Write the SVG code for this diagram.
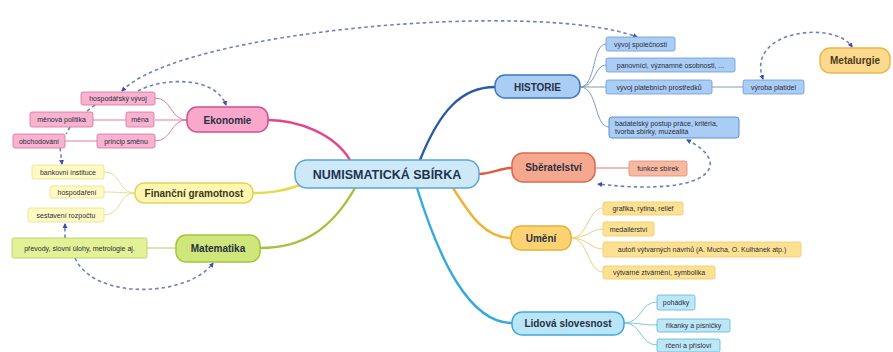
<svg xmlns="http://www.w3.org/2000/svg" width="893" height="352" viewBox="0 0 893 352">
<defs>
<marker id="ah" viewBox="0 0 10 10" refX="8" refY="5" markerWidth="5" markerHeight="5" orient="auto-start-reverse" markerUnits="userSpaceOnUse">
<path d="M0,0 L10,5 L0,10 z" fill="#3d4fb5"/>
</marker>
<style>
.main{font-family:"Liberation Sans",Arial,sans-serif;font-weight:bold;font-size:10px;fill:#2a2f45;text-anchor:middle}
.leaf{font-family:"Liberation Sans",Arial,sans-serif;font-size:7px;fill:#2b2b3a;text-anchor:middle}
.dash{fill:none;stroke:#6f82b4;stroke-width:1.6;stroke-dasharray:3.5,3}
.br{fill:none;stroke-width:2.4;stroke-linecap:round}
.lc{fill:none;stroke-width:1}
</style>
</defs>
<rect width="893" height="352" fill="#ffffff"/>

<g id="connectors">
<!-- main branches -->
<path class="br" d="M350,160 C335,135 300,120 268,120" stroke="#e2468c"/>
<path class="br" d="M300,185 C280,192 268,193 253,193" stroke="#e8da46"/>
<path class="br" d="M355,188 C330,232 300,248 260,248" stroke="#a6c23a"/>
<path class="br" d="M420,160 C440,110 462,87 495,87" stroke="#2c5ba5"/>
<path class="br" d="M479,174 C492,174 500,168 512,168" stroke="#e05c3e"/>
<path class="br" d="M453,188 C470,215 485,238 511,238" stroke="#f1b232"/>
<path class="br" d="M417,188 C440,262 470,323 512,323" stroke="#33a9e0"/>
<!-- Ekonomie leaves -->
<path class="lc" stroke="#e57aa3" d="M187,120 C170,120 172,98 155,98 M187,120 L155,120 M187,120 C170,120 172,141 155,141 M126,120 L93,120 M97,141 L65,141"/>
<!-- Financni leaves -->
<path class="lc" stroke="#e6df8a" d="M135,193 C118,193 122,172 104,172 M135,193 C120,193 120,192 104,192 M135,193 C118,193 122,215 104,215"/>
<!-- Matematika leaf -->
<path class="lc" stroke="#b4cc5a" d="M176,248 L147,248"/>
<!-- Historie leaves -->
<path class="lc" stroke="#7d9ab8" d="M580,87 C596,87 592,44 606,44 M580,87 C596,87 594,65 606,65 M580,87 L606,87 M580,87 C598,87 594,127 609,127 M712,87 L743,87"/>
<!-- Sberatelstvi leaf -->
<path class="lc" stroke="#dc8068" d="M595,168 L629,168"/>
<!-- Umeni leaves -->
<path class="lc" stroke="#ead27c" d="M571,238 C588,238 588,208 603,208 M571,238 C588,238 590,229 603,229 M571,238 C588,238 590,249 603,249 M571,238 C588,238 588,272 603,272"/>
<!-- Lidova leaves -->
<path class="lc" stroke="#80c6e4" d="M624,323 C642,323 640,302 657,302 M624,323 C640,323 642,325 657,325 M624,323 C642,323 640,345 657,345"/>
<!-- dashed relations -->
<path class="dash" d="M122,91 C180,30 540,0 637,37" marker-start="url(#ah)" marker-end="url(#ah)"/>
<path class="dash" d="M138,91 C160,78 215,75 226,105" marker-end="url(#ah)"/>
<path class="dash" d="M763,79 C745,30 835,20 852,47" marker-start="url(#ah)" marker-end="url(#ah)"/>
<path class="dash" d="M687,140 C730,160 720,198 598,184" marker-start="url(#ah)" marker-end="url(#ah)"/>
<path class="dash" d="M75,258 C95,302 190,296 213,263" marker-end="url(#ah)"/>
<path class="dash" d="M65,238 L65,224" marker-end="url(#ah)"/>
<path class="dash" d="M60,148 L62,164" marker-end="url(#ah)"/>
<path class="dash" d="M95,105 L86,112"/>
<path class="dash" d="M70,127 L66,134"/>
</g>

<g id="center">
<rect x="295" y="160" width="184" height="28" rx="12" fill="#cde9f8" stroke="#5aa5d5" stroke-width="1.5"/>
<text class="main" x="387" y="178.5" style="font-size:12.5px;fill:#22324f">NUMISMATICKÁ SBÍRKA</text>
</g>

<g id="ekonomie">
<rect x="187" y="107" width="81" height="25" rx="10" fill="#f7a8cb" stroke="#d2508e" stroke-width="1.5"/>
<text class="main" x="227.5" y="123.5">Ekonomie</text>
</g>
<g id="hospodarsky-vyvoj"><rect x="81" y="92" width="74" height="13" rx="2" fill="#f7b3d0" stroke="#d96fa0" stroke-width="0.8"/><text class="leaf" x="118" y="101">hospodářský vývoj</text></g>
<g id="menova-politika"><rect x="30" y="112" width="63" height="15" rx="2" fill="#f7b3d0" stroke="#d96fa0" stroke-width="0.8"/><text class="leaf" x="61.5" y="122">měnová politika</text></g>
<g id="mena"><rect x="126" y="112" width="28" height="15" rx="2" fill="#f7b3d0" stroke="#d96fa0" stroke-width="0.8"/><text class="leaf" x="140" y="122">měna</text></g>
<g id="obchodovani"><rect x="13" y="134" width="52" height="14" rx="2" fill="#f7b3d0" stroke="#d96fa0" stroke-width="0.8"/><text class="leaf" x="39" y="143.5">obchodování</text></g>
<g id="princip-smenu"><rect x="97" y="134" width="58" height="14" rx="2" fill="#f7b3d0" stroke="#d96fa0" stroke-width="0.8"/><text class="leaf" x="126" y="143.5">princip směnu</text></g>

<g id="financni-gramotnost">
<rect x="135" y="183" width="118" height="20" rx="9" fill="#fff7b0" stroke="#e2d25a" stroke-width="1.5"/>
<text class="main" x="194" y="196.5" style="fill:#3a3a20">Finanční gramotnost</text>
</g>
<g id="bankovni-instituce"><rect x="32" y="165" width="72" height="14" rx="2" fill="#fffac2" stroke="#e8e08a" stroke-width="0.8"/><text class="leaf" x="68" y="174.5">bankovní instituce</text></g>
<g id="hospodareni"><rect x="50" y="186" width="54" height="12" rx="2" fill="#fffac2" stroke="#e8e08a" stroke-width="0.8"/><text class="leaf" x="77" y="194.5">hospodaření</text></g>
<g id="sestaveni-rozpoctu"><rect x="28" y="208" width="76" height="14" rx="2" fill="#fffac2" stroke="#e8e08a" stroke-width="0.8"/><text class="leaf" x="66" y="217.5">sestavení rozpočtu</text></g>

<g id="matematika">
<rect x="176" y="235" width="84" height="27" rx="10" fill="#cfe67a" stroke="#a6c43c" stroke-width="1.5"/>
<text class="main" x="218" y="252">Matematika</text>
</g>
<g id="prevody"><rect x="12" y="238" width="135" height="20" rx="2" fill="#e3f297" stroke="#b4cc5a" stroke-width="0.8"/><text class="leaf" x="79.5" y="250.5">převody, slovní úlohy, metrologie aj.</text></g>

<g id="historie">
<rect x="495" y="75" width="85" height="23" rx="10" fill="#a9cdf5" stroke="#3c78c2" stroke-width="1.5"/>
<text class="main" x="537.5" y="90.5">HISTORIE</text>
</g>
<g id="vyvoj-spolecnosti"><rect x="606" y="37" width="69" height="14" rx="2" fill="#a9cdf5" stroke="#6a9bd4" stroke-width="0.8"/><text class="leaf" x="640.5" y="46.5">vývoj společnosti</text></g>
<g id="panovnici"><rect x="606" y="58" width="129" height="14" rx="2" fill="#a9cdf5" stroke="#6a9bd4" stroke-width="0.8"/><text class="leaf" x="670.5" y="67.5">panovníci, významné osobnosti, ...</text></g>
<g id="vyvoj-platebnich"><rect x="606" y="80" width="106" height="14" rx="2" fill="#a9cdf5" stroke="#6a9bd4" stroke-width="0.8"/><text class="leaf" x="659" y="89.5">vývoj platebních prostředků</text></g>
<g id="vyroba-platidel"><rect x="743" y="80" width="61" height="14" rx="2" fill="#a9cdf5" stroke="#6a9bd4" stroke-width="0.8"/><text class="leaf" x="773.5" y="89.5">výroba platidel</text></g>
<g id="badatelsky"><rect x="609" y="117" width="130" height="21" rx="3" fill="#a9cdf5" stroke="#5a8fd0" stroke-width="1"/><text class="leaf" x="615" y="125.5" style="text-anchor:start">badatelský postup práce, kritéria,</text><text class="leaf" x="615" y="134" style="text-anchor:start">tvorba sbírky, muzealita</text></g>

<g id="metalurgie">
<rect x="820" y="48" width="70" height="25" rx="10" fill="#fcd98c" stroke="#eab84a" stroke-width="1.5"/>
<text class="main" x="855" y="64" style="fill:#4a3a20">Metalurgie</text>
</g>

<g id="sberatelstvi">
<rect x="512" y="153" width="83" height="29" rx="11" fill="#f6a88e" stroke="#d9694f" stroke-width="1.5"/>
<text class="main" x="553.5" y="171">Sběratelství</text>
</g>
<g id="funkce-sbirek"><rect x="629" y="161" width="58" height="15" rx="2" fill="#f8b9a2" stroke="#e08a70" stroke-width="0.8"/><text class="leaf" x="658" y="171">funkce sbírek</text></g>

<g id="umeni">
<rect x="511" y="226" width="60" height="24" rx="10" fill="#fcd272" stroke="#e8b034" stroke-width="1.5"/>
<text class="main" x="541" y="241.5">Umění</text>
</g>
<g id="grafika"><rect x="603" y="202" width="80" height="13" rx="2" fill="#fde192" stroke="#f0c862" stroke-width="0.8"/><text class="leaf" x="643" y="211">grafika, rytina, reliéf</text></g>
<g id="medailerstvi"><rect x="603" y="222" width="51" height="14" rx="2" fill="#fde192" stroke="#f0c862" stroke-width="0.8"/><text class="leaf" x="628.5" y="231.5">medailérství</text></g>
<g id="autori"><rect x="603" y="242" width="198" height="15" rx="2" fill="#fde192" stroke="#f0c862" stroke-width="0.8"/><text class="leaf" x="702" y="252">autoři výtvarných návrhů (A. Mucha, O. Kulhánek atp.)</text></g>
<g id="vytvarne"><rect x="603" y="266" width="112" height="13" rx="2" fill="#fde192" stroke="#f0c862" stroke-width="0.8"/><text class="leaf" x="659" y="275">výtvarné ztvárnění, symbolika</text></g>

<g id="lidova-slovesnost">
<rect x="512" y="312" width="112" height="23" rx="10" fill="#b9e5f6" stroke="#3fa9da" stroke-width="1.5"/>
<text class="main" x="568" y="327">Lidová slovesnost</text>
</g>
<g id="pohadky"><rect x="657" y="295" width="38" height="15" rx="2" fill="#bde6f7" stroke="#5ab4e0" stroke-width="0.8"/><text class="leaf" x="676" y="305">pohádky</text></g>
<g id="rikanky"><rect x="657" y="319" width="73" height="13" rx="2" fill="#bde6f7" stroke="#5ab4e0" stroke-width="0.8"/><text class="leaf" x="693.5" y="328">říkanky a písničky</text></g>
<g id="rceni"><rect x="657" y="339" width="63" height="13" rx="2" fill="#bde6f7" stroke="#5ab4e0" stroke-width="0.8"/><text class="leaf" x="688.5" y="348">rčení a přísloví</text></g>
</svg>
